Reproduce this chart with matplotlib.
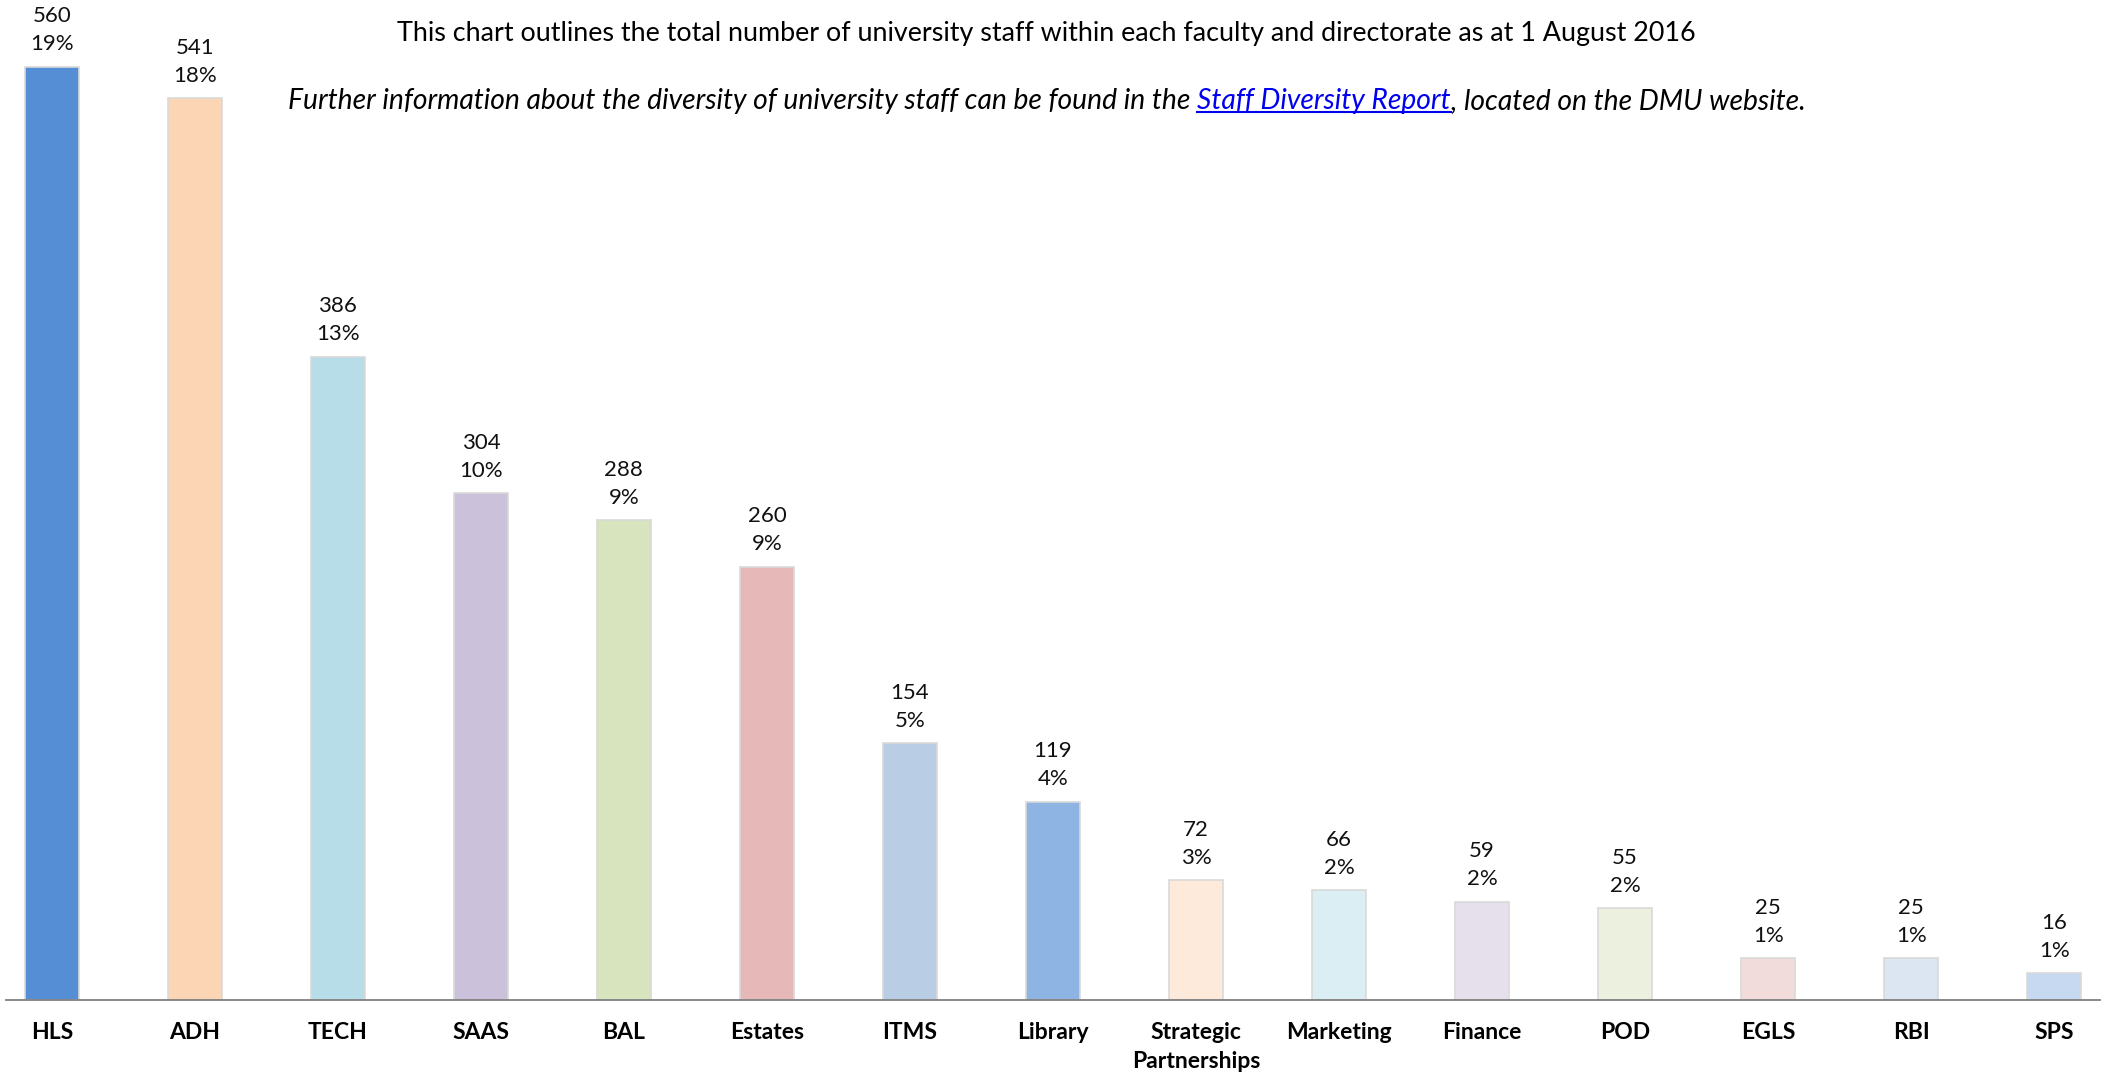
import matplotlib
matplotlib.use("Agg")
import matplotlib.pyplot as plt
import numpy as np

plt.rcParams['font.family'] = ['Lato', 'DejaVu Sans']

categories = ['HLS', 'ADH', 'TECH', 'SAAS', 'BAL', 'Estates', 'ITMS', 'Library',
              'Strategic\nPartnerships', 'Marketing', 'Finance', 'POD', 'EGLS', 'RBI', 'SPS']
staff = [560, 541, 386, 304, 288, 260, 154, 119, 72, 66, 59, 55, 25, 25, 16]
percents = ['19%', '18%', '13%', '10%', '9%', '9%', '5%', '4%', '3%', '2%', '2%', '2%', '1%', '1%', '1%']
colors = ['#558ED5', '#FCD5B5', '#B7DEE8', '#CCC1DA', '#D7E4BD', '#E6B9B8', '#B9CDE5', '#8EB4E3',
          '#FDEADA', '#DBEEF4', '#E6E0EC', '#EBF1DE', '#F2DCDB', '#DCE6F2', '#C6D9F1']

W, H = 2107, 1078
fig = plt.figure(figsize=(W / 100, H / 100), dpi=100)
ax = fig.add_axes([6 / W, 78 / H, (2100 - 6) / W, 1000 / H])

x = np.arange(len(categories))
ax.bar(x, staff, width=0.38, color=colors, edgecolor='#d9d9d9', linewidth=1.2, zorder=2)
ax.set_xlim(-0.32, 14.32)
ax.set_ylim(0, 600)

for xi, v, p in zip(x, staff, percents):
    ax.annotate(f'{v}\n{p}', xy=(xi, v), xytext=(0, 9), textcoords='offset points',
                ha='center', va='bottom', fontsize=16, linespacing=1.5, color='#111111')

ax.set_xticks(x)
ax.set_xticklabels(categories, fontsize=16.5, fontweight='bold', linespacing=1.45)
ax.tick_params(axis='x', length=0, pad=16)
ax.set_yticks([])
for s in ['top', 'right', 'left']:
    ax.spines[s].set_visible(False)
ax.spines['bottom'].set_color('#808080')
ax.spines['bottom'].set_linewidth(1.3)

fig.text(1046 / W, 1 - 33 / H, 'This chart outlines the total number of university staff within each faculty and directorate as at 1 August 2016',
         ha='center', va='center', fontsize=19.4)

# subtitle with a link-style piece in the middle
parts = [('Further information about the diversity of university staff can be found in the ', 'black'),
         ('Staff Diversity Report', '#0000EE'),
         (', located on the DMU website.', 'black')]
y_sub = 1 - 101 / H
texts = []
prev = None
for s, c in parts:
    if prev is None:
        t = fig.text(0, y_sub, s, ha='left', va='center', fontsize=20.3, style='italic', color=c)
    else:
        t = ax.annotate(s, xy=(1, 0.5), xycoords=prev, ha='left', va='center',
                        fontsize=20.3, style='italic', color=c, annotation_clip=False)
    texts.append(t)
    prev = t

fig.canvas.draw()
r = fig.canvas.get_renderer()
total = sum(t.get_window_extent(r).width for t in texts)
texts[0].set_x((1047 - total / 2) / W)
fig.canvas.draw()
bb = texts[1].get_window_extent(r)
fig.add_artist(plt.Line2D([bb.x0 / W, bb.x1 / W], [(bb.y0 + 2) / H, (bb.y0 + 2) / H],
                          color='#0000EE', linewidth=1.5))

fig.savefig('out.png', dpi=100)
